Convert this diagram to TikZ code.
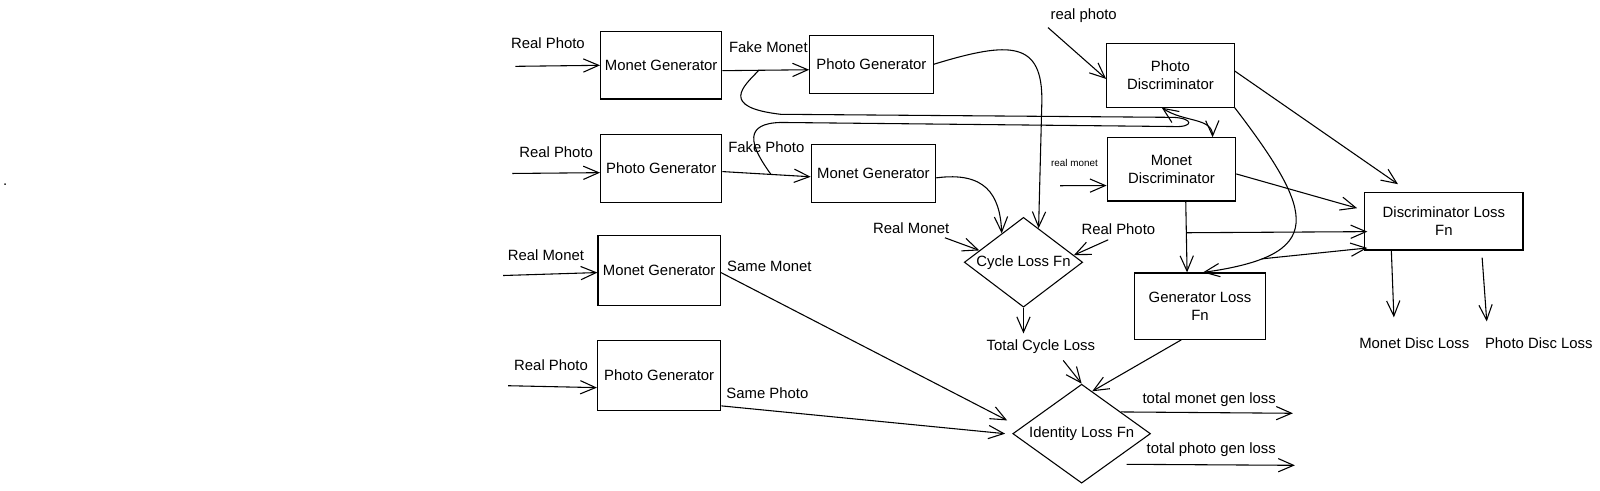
\documentclass[tikz,border=0pt]{standalone}
\usepackage{fontspec}
\setmainfont{Liberation Sans}
\usetikzlibrary{arrows.meta,shapes.geometric}

\begin{document}
\begin{tikzpicture}[x=0.02cm,y=-0.02cm,line width=0.6pt,
  font=\fontsize{8.3}{10}\selectfont,
  box/.style={rectangle,draw,align=center,inner sep=1pt},
  lossfn/.style={diamond,draw,aspect=1.4,inner sep=0pt},
  arr/.style={-{Straight Barb[length=0.3cm,width=0.26cm]}},
  dbl/.style={{Straight Barb[length=0.3cm,width=0.26cm]}-{Straight Barb[length=0.3cm,width=0.26cm]}}]
  \useasboundingbox (0,0) rectangle (1568,481);

  % generators
  \node[box,minimum width=2.38cm,minimum height=1.32cm] (mgA) at (648,64) {Monet Generator};
  \node[box,minimum width=2.42cm,minimum height=1.14cm] (pgA) at (854,63) {Photo Generator};
  \node[box,minimum width=2.38cm,minimum height=1.34cm] (pgB) at (648,165) {Photo Generator};
  \node[box,minimum width=2.44cm,minimum height=1.14cm] (mgB) at (856,170) {Monet Generator};
  \node[box,minimum width=2.40cm,minimum height=1.38cm] (mgC) at (646,265) {Monet Generator};
  \node[box,minimum width=2.42cm,minimum height=1.36cm] (pgC) at (646,368) {Photo Generator};
  % discriminators and losses
  \node[box,minimum width=2.50cm,minimum height=1.24cm] (pdisc) at (1147,74) {Photo\\Discriminator};
  \node[box,minimum width=2.52cm,minimum height=1.24cm] (mdisc) at (1148,166) {Monet\\Discriminator};
  \node[box,minimum width=3.10cm,minimum height=1.12cm] (dloss) at (1415,217) {Discriminator Loss\\Fn};
  \node[box,minimum width=2.58cm,minimum height=1.30cm] (gloss) at (1176,300) {Generator Loss\\Fn};
  \node[lossfn,minimum width=2.32cm,minimum height=1.76cm] (cycle) at (1003,257) {Cycle Loss Fn};
  \node[lossfn,minimum width=2.70cm,minimum height=1.94cm] (ident) at (1060,425) {Identity Loss Fn};

  % labels
  \node (dot) at (5,181) {.};
  \node (rpA) at (537,42) {Real Photo};
  \node (rpB) at (545,149) {Real Photo};
  \node (rmC) at (535,250) {Real Monet};
  \node (rpD) at (540,358) {Real Photo};
  \node (fmL) at (753,46) {Fake Monet};
  \node (fpL) at (751,144) {Fake Photo};
  \node (smL) at (754,261) {Same Monet};
  \node (spL) at (752,385) {Same Photo};
  \node (rpP) at (1062,15) {real photo};
  \node[font=\fontsize{5.5}{6}\selectfont] (rmM) at (1053,160) {real monet};
  \node (rmY) at (893,224) {Real Monet};
  \node (rpY) at (1096,225) {Real Photo};
  \node (tcl) at (1020,340) {Total Cycle Loss};
  \node (tmg) at (1185,392) {total monet gen loss};
  \node (tpg) at (1187,441) {total photo gen loss};
  \node (mdl) at (1386,336) {Monet Disc Loss};
  \node (pdl) at (1508,336) {Photo Disc Loss};

  \coordinate (inA) at (505,65);
  \coordinate (inB) at (502,170);
  \coordinate (inC) at (493,270);
  \coordinate (inD) at (498,378);
  \coordinate (inP) at (1027,27);
  \coordinate (inM) at (1039,182);
  \coordinate (inRM) at (926,233);
  \coordinate (inRP) at (1086,235);
  \coordinate (tpS) at (1104,455);
  \coordinate (tmE) at (1267,405);
  \coordinate (tpE) at (1269,456);
  \coordinate (mdE) at (1366,311);
  \coordinate (pdE) at (1457,315);

  \draw[arr] (inA) -- (mgA.west);
  \draw[arr] (mgA.-5) -- coordinate[pos=0.42] (fm) (pgA.185);
  \draw[arr] (inB) -- (pgB.184);
  \draw[arr] (pgB.-3) -- coordinate[pos=0.55] (fp) (mgB.183);
  \draw[arr] (inC) -- (mgC.182);
  \draw[arr] (inD) -- (pgC.191);
  \draw (fm) .. controls (728,85) and (705,105) .. (765,112) -- (1150,115) .. controls (1170,116) and (1170,125) .. (1150,124) -- (765,120) .. controls (730,121) and (733,140) .. (fp); % loop
  \draw[dbl] (pdisc.-105) .. controls (1160,120) and (1188,115) .. (mdisc.38);

  % cycle loss
  \draw[arr] (pgA.east) .. controls (990,40) and (1022,40) .. (1021,100) -- (cycle.66);
  \draw[arr] (mgB.-4) .. controls (965,168) and (980,190) .. (cycle.127);
  \draw[arr] (inRM) -- (cycle.165);
  \draw[arr] (inRP) -- (cycle.8);
  \draw[arr] (cycle.south) -- (cycle.south |- tcl.north);

  % identity loss
  \draw[arr] (tcl.-31) -- (ident.north);
  \draw[arr] (gloss.-119) -- (ident.76);
  \draw[arr] (mgC.-2) -- ([xshift=-0.1cm,yshift=0.26cm]ident.west);
  \draw[arr] (pgC.-26) -- ([xshift=-0.14cm]ident.west);
  \draw[arr] (ident.29) -- (tmE);
  \draw[arr] (tpS) -- (tpE);

  % discriminators
  \draw[arr] (inP) -- (pdisc.183);
  \draw[arr] (inM) -- (mdisc.194);
  \draw[arr] (pdisc.4) -- ([xshift=-0.9cm,yshift=0.16cm]dloss.north);
  \draw[arr] (mdisc.-4) -- ([xshift=-0.14cm,yshift=0.26cm]dloss.west);
  \draw[arr] (mdisc.-66) -- coordinate[pos=0.44] (br) (gloss.111);
  \draw[arr] (br) -- ([xshift=0.06cm,yshift=-0.2cm]dloss.west);
  \draw[arr] (pdisc.south east) .. controls (1290,210) and (1300,250) .. (gloss.85) coordinate[pos=0.8] (sp);
  \draw[arr] (sp) -- ([xshift=0.06cm,yshift=-0.52cm]dloss.west);
  \draw[arr] ([xshift=-1.03cm]dloss.south) -- (mdE);
  \draw[arr] ([xshift=0.75cm,yshift=-0.14cm]dloss.south) -- (pdE);
\end{tikzpicture}
\end{document}
